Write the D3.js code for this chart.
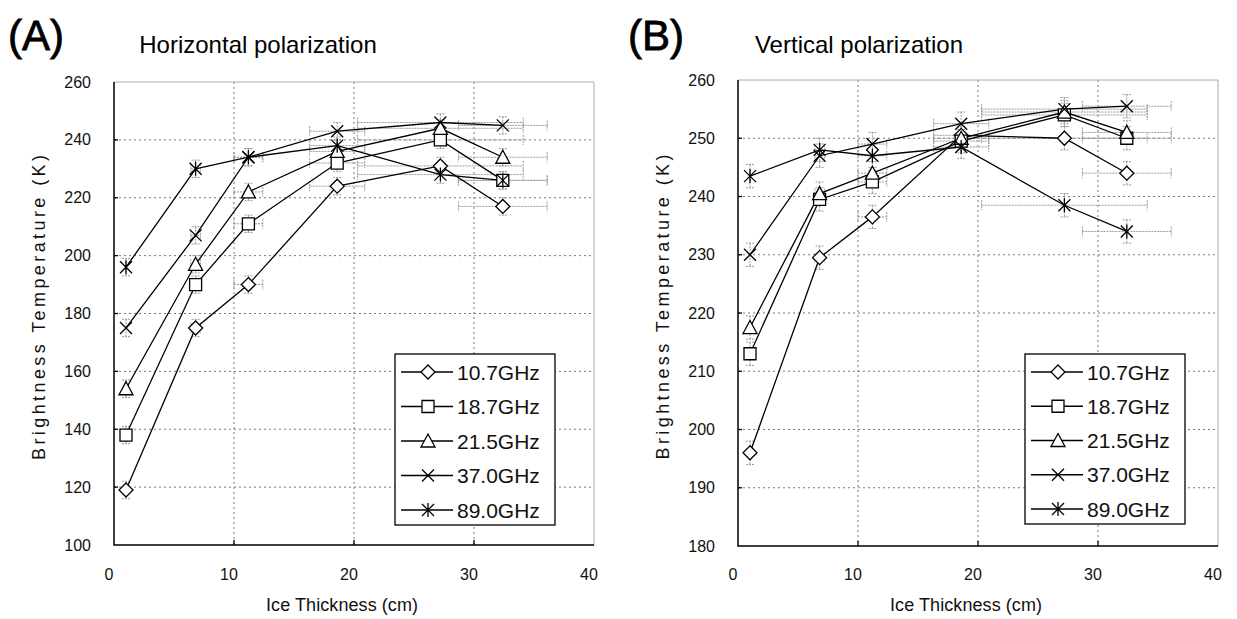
<!DOCTYPE html>
<html>
<head>
<meta charset="utf-8">
<title>Brightness temperature vs ice thickness</title>
<style>
  body { margin: 0; background: #fff; font-family: 'Liberation Sans', Arial, sans-serif; }
  .grid line { stroke: #777; stroke-width: 1; stroke-dasharray: 2,3; }
  .series { fill: none; stroke: #000; stroke-width: 1.3; }
  .err { stroke: #9a9a9a; stroke-width: 1; stroke-dasharray: 2,1; fill: none; }
  .marker { stroke: #000; stroke-width: 1.3; }
  .tick-label { font-size: 16px; fill: #111; }
  .axis-title { font-size: 18px; fill: #111; }
  .legend text { font-size: 21px; fill: #111; }
</style>
</head>
<body>
<svg id="chart" width="1237" height="619"></svg>
<script src="https://d3js.org/d3.v7.min.js"></script>
<script>
// ice thickness (cm) of the six samples and their spread
var thickness = [1.0, 6.8, 11.2, 18.6, 27.2, 32.4];
var thicknessErr = [0, 0.4, 1.2, 2.3, 6.9, 3.7];

var freqs = ["10.7GHz", "18.7GHz", "21.5GHz", "37.0GHz", "89.0GHz"];
var symbols = ["diamond", "square", "triangle", "cross", "asterisk"];

// (A) horizontal polarization, brightness temperature (K)
var hTb107 = [119, 175, 190, 224, 231, 217];
var hTb187 = [138, 190, 211, 232, 240, 226];
var hTb215 = [154, 197, 222, 236, 244, 234];
var hTb370 = [175, 207, 234, 243, 246, 245];
var hTb890 = [196, 230, 234, 238, 228, 226];

// (B) vertical polarization
var vTb107 = [196, 229.5, 236.5, 250.5, 250, 244];
var vTb187 = [213, 239.5, 242.5, 249.5, 254, 250];
var vTb215 = [217.5, 240.5, 244, 250, 254.5, 251];
var vTb370 = [230, 247, 249, 252.5, 255, 255.5];
var vTb890 = [243.5, 248, 247, 248.5, 238.5, 234];

var hTicks = [100, 120, 140, 160, 180, 200, 220, 240, 260];
var vTicks = [180, 190, 200, 210, 220, 230, 240, 250, 260];
var xTicks = [0, 10, 20, 30, 40];

var svg = d3.select("#chart");

var panels = [
  {
    tag: "(A)", title: "Horizontal polarization",
    series: [hTb107, hTb187, hTb215, hTb370, hTb890], tErr: 3,
    yTicks: hTicks,
    left: 114, right: 594, top: 82, bottom: 545,
    tagX: 8, titleX: 258,
    legend: { x: 395, y: 354, w: 160, h: 171 }
  },
  {
    tag: "(B)", title: "Vertical polarization",
    series: [vTb107, vTb187, vTb215, vTb370, vTb890], tErr: 2,
    yTicks: vTicks,
    left: 738, right: 1218, top: 80, bottom: 546,
    tagX: 628, titleX: 859,
    legend: { x: 1025, y: 354, w: 160, h: 170 }
  }
];

function markerPath(type) {
  switch (type) {
    case "diamond": return "M0,-7L7,0L0,7L-7,0Z";
    case "square": return "M-6,-6H6V6H-6Z";
    case "triangle": return "M0,-7L7,6H-7Z";
    case "cross": return "M-6,-6L6,6M6,-6L-6,6";
    case "asterisk": return "M-6,-6L6,6M6,-6L-6,6M0,-7V7";
  }
}

function isOpen(type) {
  return type == "cross" || type == "asterisk";
}

panels.forEach(drawPanel);

function drawPanel(p) {
  var x = d3.scaleLinear().domain([0, 40]).range([p.left, p.right]);
  var y = d3.scaleLinear().domain([p.yTicks[0], p.yTicks[p.yTicks.length - 1]]).range([p.bottom, p.top]);

  var g = svg.append("g");

  // titles
  g.append("text")
    .attr("x", p.tagX).attr("y", 50)
    .style("font-size", "42px").style("stroke", "#000").style("stroke-width", 0.8)
    .text(p.tag);
  g.append("text")
    .attr("x", p.titleX).attr("y", 53)
    .attr("text-anchor", "middle")
    .style("font-size", "24px")
    .text(p.title);

  // gridlines
  var grid = g.append("g").attr("class", "grid");
  grid.selectAll("line.h")
    .data(p.yTicks.slice(1, -1))
    .enter().append("line")
    .attr("x1", p.left).attr("x2", p.right)
    .attr("y1", d => y(d)).attr("y2", d => y(d));
  grid.selectAll("line.v")
    .data(xTicks.slice(1, -1))
    .enter().append("line")
    .attr("y1", p.top).attr("y2", p.bottom)
    .attr("x1", d => x(d)).attr("x2", d => x(d));

  // frame: light top/right, black axes
  g.append("path")
    .attr("d", "M" + p.left + "," + p.top + "H" + p.right + "V" + p.bottom)
    .attr("fill", "none").attr("stroke", "#aaa").attr("stroke-width", 1);
  g.append("path")
    .attr("d", "M" + p.left + "," + p.top + "V" + p.bottom + "H" + p.right)
    .attr("fill", "none").attr("stroke", "#000").attr("stroke-width", 1.5);

  // small ticks
  g.selectAll("line.xt")
    .data(xTicks.slice(1, -1))
    .enter().append("line")
    .attr("x1", d => x(d)).attr("x2", d => x(d))
    .attr("y1", p.bottom).attr("y2", p.bottom - 5)
    .attr("stroke", "#000").attr("stroke-width", 1.3);
  g.selectAll("line.yt")
    .data(p.yTicks.slice(1, -1))
    .enter().append("line")
    .attr("x1", p.left).attr("x2", p.left + 4)
    .attr("y1", d => y(d)).attr("y2", d => y(d))
    .attr("stroke", "#000").attr("stroke-width", 1.3);

  // tick labels
  g.selectAll("text.yl")
    .data(p.yTicks)
    .enter().append("text")
    .attr("class", "tick-label")
    .attr("x", p.left - 23).attr("y", d => y(d))
    .attr("dy", "0.35em")
    .attr("text-anchor", "end")
    .text(d => d);
  g.selectAll("text.xl")
    .data(xTicks)
    .enter().append("text")
    .attr("class", "tick-label")
    .attr("x", d => x(d) - 5).attr("y", 580)
    .attr("text-anchor", "middle")
    .text(d => d);

  // axis titles
  g.append("text")
    .attr("class", "axis-title")
    .attr("x", (p.left + p.right) / 2 - 12).attr("y", 611)
    .attr("text-anchor", "middle")
    .attr("textLength", 152).attr("lengthAdjust", "spacing")
    .text("Ice Thickness (cm)");
  g.append("text")
    .attr("class", "axis-title")
    .attr("transform", "translate(" + (p.left - 69) + "," + ((p.top + p.bottom) / 2 - 6) + ") rotate(-90)")
    .attr("text-anchor", "middle")
    .attr("textLength", 305).attr("lengthAdjust", "spacing")
    .text("Brightness Temperature (K)");

  // error bars
  var eb = g.append("g");
  p.series.forEach(function(vals) {
    vals.forEach(function(v, i) {
      var cx = x(thickness[i]), cy = y(v);
      if (thicknessErr[i] > 0) {
        var xl = x(thickness[i] - thicknessErr[i]), xr = x(thickness[i] + thicknessErr[i]);
        eb.append("path").attr("class", "err")
          .attr("d", "M" + xl + "," + cy + "H" + xr +
            "M" + xl + "," + (cy - 5) + "V" + (cy + 5) +
            "M" + xr + "," + (cy - 5) + "V" + (cy + 5));
      }
      var yt = y(v + p.tErr), yb = y(v - p.tErr);
      eb.append("path").attr("class", "err")
        .attr("d", "M" + cx + "," + yt + "V" + yb +
          "M" + (cx - 4) + "," + yt + "H" + (cx + 4) +
          "M" + (cx - 4) + "," + yb + "H" + (cx + 4));
    });
  });

  // lines
  var line = d3.line()
    .x((d, i) => x(thickness[i]))
    .y(d => y(d));
  g.selectAll("path.series")
    .data(p.series)
    .enter().append("path")
    .attr("class", "series")
    .attr("d", line);

  // markers
  p.series.forEach(function(vals, s) {
    g.selectAll(null)
      .data(vals)
      .enter().append("path")
      .attr("class", "marker")
      .attr("transform", (d, i) => "translate(" + x(thickness[i]) + "," + y(d) + ")")
      .attr("d", markerPath(symbols[s]))
      .attr("fill", isOpen(symbols[s]) ? "none" : "#fff");
  });

  // legend
  var L = p.legend;
  var lg = g.append("g").attr("class", "legend");
  lg.append("rect")
    .attr("x", L.x).attr("y", L.y).attr("width", L.w).attr("height", L.h)
    .attr("fill", "#fff").attr("stroke", "#000").attr("stroke-width", 1.3);
  var rowH = (L.h - 33) / 4;
  var items = lg.selectAll("g.item")
    .data(freqs)
    .enter().append("g")
    .attr("transform", (d, i) => "translate(" + L.x + "," + (L.y + 18 + i * rowH) + ")");
  items.append("line")
    .attr("x1", 6).attr("x2", 58)
    .attr("stroke", "#000").attr("stroke-width", 1.3);
  items.append("path")
    .attr("class", "marker")
    .attr("transform", "translate(33,0)")
    .attr("d", (d, i) => markerPath(symbols[i]))
    .attr("fill", (d, i) => isOpen(symbols[i]) ? "none" : "#fff");
  items.append("text")
    .attr("x", 62).attr("dy", "0.36em")
    .text(d => d);
}
</script>
</body>
</html>
